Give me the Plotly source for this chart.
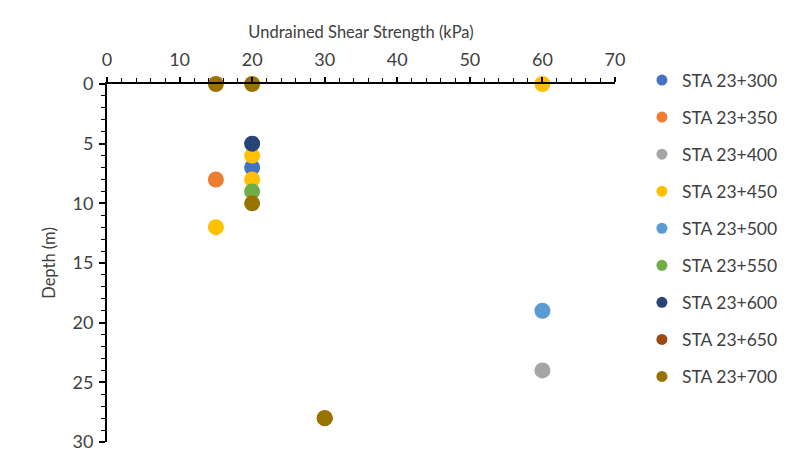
import plotly.graph_objects as go

stations = ["STA 23+300", "STA 23+350", "STA 23+400", "STA 23+450", "STA 23+500",
            "STA 23+550", "STA 23+600", "STA 23+650", "STA 23+700"]
colors = ["#4472C4", "#ED7D31", "#A5A5A5", "#FFC000", "#5B9BD5",
          "#70AD47", "#264478", "#9E480E", "#997300"]
strength = [
    [20],
    [15],
    [60],
    [60, 20, 20, 15],
    [60],
    [20],
    [20],
    [30],
    [15, 20, 20, 30],
]
depth = [
    [7],
    [8],
    [24],
    [0, 6, 8, 12],
    [19],
    [9],
    [5],
    [28],
    [0, 0, 10, 28],
]

fig = go.Figure()
for i, name in enumerate(stations):
    fig.add_trace(go.Scatter(
        x=strength[i], y=depth[i], mode="markers", name=name,
        legendgroup=name, showlegend=False,
        marker=dict(size=16, color=colors[i]),
        cliponaxis=False,
    ))
# legend entries (smaller symbols, as in the reference legend)
for i, name in enumerate(stations):
    fig.add_trace(go.Scatter(
        x=[None], y=[None], mode="markers", name=name,
        legendgroup=name, showlegend=True,
        marker=dict(size=11, color=colors[i]),
    ))

font_family = "Lato, Open Sans, sans-serif"
txt = "#404040"
fig.update_layout(
    width=809, height=470,
    margin=dict(l=107, r=194, t=84, b=28),
    paper_bgcolor="white", plot_bgcolor="white",
    font=dict(family=font_family, size=18, color=txt),
    showlegend=True,
    legend=dict(x=1.053, y=1.061, xanchor="left", yanchor="top",
                xref="paper",
                font=dict(size=17.5, color=txt),
                tracegroupgap=11.3, itemwidth=30, maxheight=460),
    xaxis=dict(
        side="top", range=[0, 70], dtick=10, tick0=0,
        showgrid=False, zeroline=False,
        showline=True, linecolor="black", linewidth=2,
        ticks="outside", ticklen=5, tickwidth=1.5, tickcolor="black",
        minor=dict(dtick=2, ticks="outside", ticklen=4, tickcolor="black", tickwidth=1.2),
        title=dict(text="Undrained Shear Strength (kPa)", standoff=5,
                   font=dict(size=16.5, color=txt)),
        tickfont=dict(size=18, color=txt),
        ticklabelstandoff=4,
    ),
    yaxis=dict(
        range=[30, 0], dtick=5, tick0=0,
        showgrid=False, zeroline=False,
        showline=True, linecolor="black", linewidth=2,
        ticks="outside", ticklen=6, tickwidth=1.5, tickcolor="black",
        minor=dict(dtick=1, ticks="outside", ticklen=4, tickcolor="black", tickwidth=1.2),
        title=dict(text="Depth (m)", standoff=13,
                   font=dict(size=16.5, color=txt)),
        tickfont=dict(size=18, color=txt),
        ticklabelstandoff=2,
    ),
)

fig.write_html("out.html")
